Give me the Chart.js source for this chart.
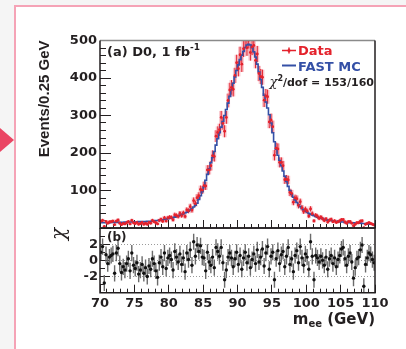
<!DOCTYPE html>
<html>
<head>
<meta charset="utf-8">
<script src="https://cdn.jsdelivr.net/npm/chart.js@4.4.1/dist/chart.umd.min.js"></script>
<style>
html, body { margin: 0; padding: 0; }
body { width: 406px; height: 349px; background: #f5f5f5; position: relative; overflow: hidden; }
#frame { position: absolute; left: 14px; top: 5px; width: 420px; height: 380px; background: #fff;
         border-left: 2px solid #f5a3b6; border-top: 2px solid #f5a3b6; }
#arrow { position: absolute; left: 0; top: 128px; width: 14px; height: 24px; background: #ea4563;
         clip-path: polygon(0 0, 100% 50%, 0 100%); }
#top, #bot { position: absolute; left: 0; }
#top { top: 0; }
#bot { top: 224px; }
</style>
</head>
<body>
<div id="frame"></div>
<div id="arrow"></div>
<canvas id="top" width="406" height="232"></canvas>
<canvas id="bot" width="406" height="125"></canvas>
<script>
// m_ee histogram, 160 bins of 0.25 GeV from 70 to 110 GeV
const binLow = 70, binWidth = 0.25;

const mcCounts = [
    14, 14, 14, 14,   14, 14, 15, 15,   15, 15, 15, 15,   15, 15, 16, 16,
    16, 16, 16, 16,   16, 16, 17, 17,   17, 17, 17, 18,   18, 18, 19, 19,
    20, 20, 21, 21,   22, 23, 24, 25,   26, 27, 28, 29,   31, 32, 34, 36,
    38, 40, 42, 45,   48, 52, 56, 61,   66, 76, 86, 97,   110, 127, 143, 158,
    174, 188, 204, 221,   238, 254, 269, 284,   300, 316, 333, 351,   369, 386, 403, 420,
    435, 449, 461, 471,   481, 488, 490, 488,   481, 470, 456, 437,   416, 396, 375, 354,
    336, 320, 302, 280,   254, 230, 210, 194,   180, 166, 152, 138,   124, 111, 100, 90,
    82, 75, 68, 62,   57, 52, 48, 45,   42, 39, 37, 35,   33, 31, 29, 27,
    26, 25, 23, 22,   21, 20, 20, 19,   18, 18, 17, 17,   16, 16, 15, 15,
    15, 14, 14, 14,   13, 13, 13, 13,   12, 12, 12, 11,   11, 10, 10, 9,
];

const dataCounts = [
    18, 20, 4, 17,   13, 16, 17, 18,   9, 18, 21, 13,   9, 12, 11, 14,
    17, 11, 20, 14,   12, 15, 10, 12,   15, 10, 13, 10,   15, 13, 20, 17,
    14, 11, 20, 23,   18, 27, 19, 27,   29, 28, 22, 35,   33, 31, 39, 33,
    40, 31, 48, 46,   57, 48, 73, 65,   81, 86, 103, 101,   113, 112, 155, 155,
    166, 193, 191, 245,   255, 262, 295, 279,   258, 295, 340, 368,   375, 370, 407, 441,
    425, 462, 437, 478,   503, 481, 501, 468,   483, 487, 447, 464,   412, 404, 402, 341,
    352, 350, 283, 288,   270, 194, 213, 211,   175, 175, 166, 129,   130, 128, 95, 92,
    69, 80, 78, 60,   70, 54, 44, 50,   45, 32, 51, 38,   19, 34, 31, 26,
    29, 25, 20, 24,   16, 21, 23, 17,   19, 15, 17, 19,   22, 22, 16, 13,
    17, 17, 13, 6,   10, 14, 14, 18,   19, 1, 10, 12,   14, 12, 10, 8,
];

const chiValues = [
    1.0, 1.7, -2.8, 0.7,   -0.4, 0.4, 0.6, 0.8,   -1.6, 0.9, 1.5, -0.4,   -1.5, -0.8, -1.2, -0.4,
    0.2, -1.3, 0.9, -0.6,   -1.0, -0.3, -1.7, -1.2,   -0.5, -1.6, -0.9, -2.0,   -0.7, -1.1, 0.2, -0.4,
    -1.3, -2.1, -0.3, 0.4,   -0.8, 0.9, -1.0, 0.3,   0.6, 0.1, -1.2, 1.1,   0.4, -0.2, 0.8, -0.5,
    0.3, -1.4, 0.9, 0.1,   1.3, -0.6, 2.3, 0.5,   1.9, 1.1, 1.8, 0.4,   0.3, -1.3, 1.0, -0.2,
    -0.6, 0.4, -0.9, 1.6,   1.1, 0.5, 1.6, -0.3,   -2.4, -1.2, 0.4, 0.9,   0.3, -0.8, 0.2, 1.0,
    -0.5, 0.6, -1.1, 0.3,   1.0, -0.3, 0.5, -0.9,   0.1, 0.8, -0.4, 1.3,   -0.2, 0.4, 1.4, -0.7,
    0.9, 1.7, -1.1, 0.5,   1.0, -2.4, 0.2, 1.2,   -0.4, 0.7, 1.1, -0.8,   0.5, 1.6, -0.5, 0.2,
    -1.4, 0.6, 1.2, -0.3,   1.7, 0.3, -0.6, 0.8,   0.4, -1.1, 2.3, 0.5,   -2.4, 0.6, 0.3, -0.2,
    0.5, 0.0, -0.6, 0.4,   -1.1, 0.2, 0.6, -0.4,   0.3, -0.8, 0.1, 0.6,   1.4, 1.6, 0.2, -0.6,
    0.5, 0.9, -0.2, -2.2,   -0.9, 0.2, 0.4, 1.3,   1.9, -3.2, -0.5, 0.3,   0.9, 0.7, 0.1, -0.3,
];

const yTopTicks = [100, 200, 300, 400, 500];
const yBotTicks = [-2, 0, 2];

const DATA_RED = "#e4222c";
const DATA_PINK = "rgba(240, 120, 135, 0.45)";
const MC_BLUE = "#3450a6";
const INK = "#231f20";
const TICK_FONT = { family: "DejaVu Sans", weight: "bold", size: 13 };

const binCenters = mcCounts.map((_, i) => binLow + binWidth * (i + 0.5));
const mcPoints = binCenters.map((x, i) => ({ x, y: mcCounts[i] }));
const dataPoints = binCenters.map((x, i) => ({ x, y: dataCounts[i] }));
const chiPoints = binCenters.map((x, i) => ({ x, y: chiValues[i] }));

// fixed axis box, and no extra layout padding for label overflow
function fixBox(size) {
    return s => {
        if (s.isHorizontal()) s.height = size; else s.width = size;
        s.paddingTop = 0; s.paddingBottom = 0; s.paddingLeft = 0; s.paddingRight = 0;
    };
}

// Inward tick marks: a labelled major axis plus an unlabelled minor axis
function majorAxis(extra) {
    return Object.assign({
        type: "linear",
        weight: 1,
        border: { display: false },
    }, extra);
}
function minorAxis(pos, min, max, step, len) {
    return {
        type: "linear", position: pos, min, max, weight: 0,
        ticks: { stepSize: step, display: false, autoSkip: false },
        grid: { drawOnChartArea: false, tickLength: -len, tickColor: INK, tickWidth: 1 },
        border: { display: false },
        afterFit: fixBox(0),
    };
}

// Error bars for the points, drawn through the chart scales
const errorBarPlugin = {
    id: "errorBars",
    beforeDatasetsDraw(chart, args, opts) {
        if (!opts.mode) return;
        const { ctx, chartArea, scales } = chart;
        ctx.save();
        ctx.beginPath();
        ctx.rect(chartArea.left, chartArea.top, chartArea.right - chartArea.left, chartArea.bottom - chartArea.top);
        ctx.clip();
        const pts = chart.data.datasets[opts.dataset].data;
        for (const p of pts) {
            const err = opts.mode === "poisson" ? Math.sqrt(p.y) : 1;
            const x = scales.x.getPixelForValue(p.x);
            const y1 = scales.y.getPixelForValue(p.y - err);
            const y2 = scales.y.getPixelForValue(p.y + err);
            if (opts.band) {
                ctx.fillStyle = opts.band;
                ctx.fillRect(x - 2, y2, 4, y1 - y2);
            }
            ctx.strokeStyle = opts.color;
            ctx.lineWidth = opts.width;
            ctx.beginPath();
            ctx.moveTo(x, y1);
            ctx.lineTo(x, y2);
            if (opts.hbar) {
                const xa = scales.x.getPixelForValue(p.x - binWidth / 2);
                const xb = scales.x.getPixelForValue(p.x + binWidth / 2);
                const yc = scales.y.getPixelForValue(p.y);
                ctx.moveTo(xa, yc);
                ctx.lineTo(xb, yc);
            }
            ctx.stroke();
        }
        ctx.restore();
    },
};

// Frame around the plot area
const framePlugin = {
    id: "frame",
    afterDraw(chart, args, opts) {
        const { ctx, chartArea: a } = chart;
        ctx.save();
        ctx.lineWidth = 1.5;
        ctx.strokeStyle = opts.topColor || INK;
        ctx.beginPath();
        ctx.moveTo(a.left, a.top);
        ctx.lineTo(a.right, a.top);
        ctx.stroke();
        ctx.strokeStyle = INK;
        ctx.beginPath();
        ctx.moveTo(a.right, a.top);
        ctx.lineTo(a.right, a.bottom);
        ctx.lineTo(a.left, a.bottom);
        ctx.lineTo(a.left, a.top);
        ctx.stroke();
        ctx.restore();
    },
};

function drawRich(ctx, x, y, parts) {
    // parts: [text, font, color, dy]
    let cx = x;
    for (const [t, f, c, dy] of parts) {
        ctx.font = f;
        ctx.fillStyle = c;
        ctx.fillText(t, cx, y + (dy || 0));
        cx += ctx.measureText(t).width;
    }
    return cx;
}
function richWidth(ctx, parts) {
    let w = 0;
    for (const [t, f] of parts) { ctx.font = f; w += ctx.measureText(t).width; }
    return w;
}

const topLabels = {
    id: "topLabels",
    afterDraw(chart) {
        const { ctx, chartArea: a } = chart;
        const B13 = "bold 13px 'DejaVu Sans'";
        const B9 = "bold 9px 'DejaVu Sans'";
        ctx.save();
        ctx.textBaseline = "alphabetic";
        ctx.textAlign = "left";
        drawRich(ctx, a.left + 7, a.top + 15, [
            ["(a) D0, 1 fb", B13, INK], ["-1", B9, INK, -6],
        ]);
        // legend
        const lx = a.left + 182, ly1 = a.top + 10, ly2 = a.top + 25;
        ctx.strokeStyle = DATA_RED;
        ctx.lineWidth = 1.5;
        ctx.beginPath();
        ctx.moveTo(lx, ly1); ctx.lineTo(lx + 14, ly1);
        ctx.moveTo(lx + 7, ly1 - 3); ctx.lineTo(lx + 7, ly1 + 3);
        ctx.stroke();
        ctx.fillStyle = DATA_RED;
        ctx.beginPath(); ctx.arc(lx + 7, ly1, 1.6, 0, Math.PI * 2); ctx.fill();
        ctx.strokeStyle = MC_BLUE;
        ctx.lineWidth = 2;
        ctx.beginPath(); ctx.moveTo(lx, ly2); ctx.lineTo(lx + 14, ly2); ctx.stroke();
        drawRich(ctx, lx + 16, ly1 + 4.5, [["Data", B13, DATA_RED]]);
        drawRich(ctx, lx + 16, ly2 + 5, [["FAST MC", B13, MC_BLUE]]);
        const chi = [
            ["\u03c7", "italic 13px 'DejaVu Serif'", INK], ["2", "bold 8px 'DejaVu Sans'", INK, -5],
            ["/dof = 153/160", "bold 11px 'DejaVu Sans'", INK],
        ];
        drawRich(ctx, a.right - 1 - richWidth(ctx, chi), a.top + 45, chi);
        ctx.restore();
    },
};

const botLabels = {
    id: "botLabels",
    afterDraw(chart) {
        const { ctx, chartArea: a } = chart;
        ctx.save();
        ctx.textBaseline = "alphabetic";
        drawRich(ctx, a.left + 7, a.top + 13, [["(b)", "bold 12px 'DejaVu Sans'", INK]]);
        const title = [
            ["m", "bold 15px 'DejaVu Sans'", INK], ["ee", "bold 10px 'DejaVu Sans'", INK, 3],
            [" (GeV)", "bold 15px 'DejaVu Sans'", INK],
        ];
        drawRich(ctx, a.right - richWidth(ctx, title), a.bottom + 31, title);
        ctx.restore();
    },
};

Chart.defaults.font.family = "DejaVu Sans";
Chart.defaults.color = INK;

new Chart(document.getElementById("top"), {
    type: "line",
    data: {
        datasets: [
            {
                label: "FAST MC", data: mcPoints, borderColor: MC_BLUE, borderWidth: 1.6,
                pointRadius: 0, stepped: "middle", order: 2,
            },
            {
                label: "Data", type: "scatter", data: dataPoints, backgroundColor: DATA_RED,
                borderColor: DATA_RED, borderWidth: 0, pointRadius: 1.4, order: 1,
            },
        ],
    },
    options: {
        responsive: false,
        animation: false,
        events: [],
        layout: { padding: { left: 0, right: 31, top: 40.5, bottom: 4 } },
        plugins: {
            legend: { display: false },
            tooltip: { enabled: false },
            errorBars: { mode: "poisson", dataset: 1, color: DATA_RED, width: 1, band: DATA_PINK, hbar: true },
            frame: { topColor: "#8a8a8a" },
        },
        scales: {
            x: majorAxis({
                position: "bottom", min: 70, max: 110,
                ticks: { stepSize: 5, display: false },
                grid: { drawOnChartArea: false, tickLength: -8, tickColor: INK, tickWidth: 1 },
                afterFit: fixBox(0),
            }),
            xMinor: minorAxis("bottom", 70, 110, 1, 4),
            y: majorAxis({
                position: "left", min: 0, max: 500,
                ticks: {
                    stepSize: 100, padding: 14, font: TICK_FONT, color: INK, autoSkip: false,
                    callback: v => (yTopTicks.includes(v) ? String(v) : ""),
                },
                grid: { drawOnChartArea: false, tickLength: -11, tickColor: INK, tickWidth: 1 },
                title: {
                    display: true, text: "Events/0.25 GeV", align: "end", color: INK,
                    font: { family: "Liberation Sans", weight: "bold", size: 15, lineHeight: 1.2 },
                    padding: { top: 36, bottom: 0 },
                },
                afterFit: fixBox(100),
            }),
            yMinor: minorAxis("left", 0, 500, 20, 6),
        },
    },
    plugins: [errorBarPlugin, framePlugin, topLabels],
});

new Chart(document.getElementById("bot"), {
    type: "scatter",
    data: {
        datasets: [{
            label: "chi", data: chiPoints, backgroundColor: "#111", borderWidth: 0, pointRadius: 1.7,
        }],
    },
    options: {
        responsive: false,
        animation: false,
        events: [],
        layout: { padding: { left: 0, right: 31, top: 4, bottom: 0 } },
        plugins: {
            legend: { display: false },
            tooltip: { enabled: false },
            errorBars: { mode: "unit", dataset: 0, color: "#6b6b6b", width: 1.4 },
            frame: {},
        },
        scales: {
            x: majorAxis({
                position: "bottom", min: 70, max: 110,
                ticks: { stepSize: 5, padding: 11, font: TICK_FONT, color: INK, maxRotation: 0, autoSkip: false },
                grid: { drawOnChartArea: false, tickLength: -8, tickColor: INK, tickWidth: 1 },
                afterFit: fixBox(56.3),
            }),
            xMinor: minorAxis("bottom", 70, 110, 1, 4),
            y: majorAxis({
                position: "left", min: -4, max: 4,
                ticks: {
                    stepSize: 2, padding: 12, font: TICK_FONT, color: INK, autoSkip: false,
                    callback: v => (yBotTicks.includes(v) ? String(v) : ""),
                },
                grid: {
                    drawOnChartArea: true, tickLength: -10, tickColor: INK, tickWidth: 1,
                    color: c => (c.tick && yBotTicks.includes(c.tick.value) ? "#9a9a9a" : "rgba(0,0,0,0)"),
                    lineWidth: 1,
                },
                border: { display: false, dash: [1, 2] },
                title: {
                    display: true, text: "\u03c7", align: "end", color: INK,
                    font: { family: "DejaVu Serif", style: "italic", size: 20, lineHeight: 1.2 },
                    padding: { top: 48, bottom: 0 },
                },
                afterFit: fixBox(100),
            }),
            yMinor: minorAxis("left", -4, 4, 1, 5),
        },
    },
    plugins: [errorBarPlugin, framePlugin, botLabels],
});
</script>
</body>
</html>
